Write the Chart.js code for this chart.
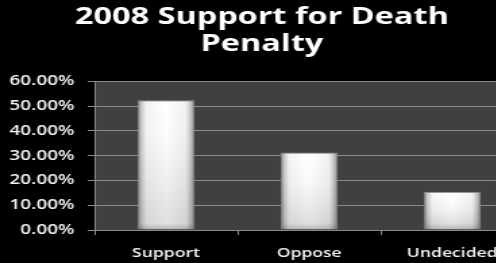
<!DOCTYPE html>
<html>
<head>
<meta charset="utf-8">
<script src="https://cdn.jsdelivr.net/npm/chart.js@4/dist/chart.umd.min.js"></script>
<style>
  html, body { margin: 0; padding: 0; background: #000; overflow: hidden; width: 496px; height: 263px; }
  #wrap { width: 393px; height: 263px; transform: scaleX(1.35); transform-origin: 0 0; }
  canvas { display: block; }
</style>
</head>
<body>
<div id="wrap"><canvas id="c" width="393" height="263" style="width:393px;height:263px"></canvas></div>
<script>
const categories = ["Support", "Oppose", "Undecided"];
const values = [0.523, 0.313, 0.154];
const titleLines = ["2008 Support for Death", "Penalty"];
const yMin = 0, yMax = 0.6, yStep = 0.1;

const FONT = "'Open Sans', 'DejaVu Sans', sans-serif";
const BAR_FRACTION = 0.4;

function barGradient(ctx) {
  const chart = ctx.chart;
  const xs = chart.scales && chart.scales.x;
  if (!xs || !chart.chartArea) return '#f4f4f4';
  const cx = xs.getPixelForValue(ctx.dataIndex);
  const w = (xs.width / categories.length) * BAR_FRACTION;
  const g = chart.ctx.createLinearGradient(cx - w / 2, 0, cx + w / 2, 0);
  g.addColorStop(0, '#7a7a7a');
  g.addColorStop(0.06, '#c4c4c4');
  g.addColorStop(0.15, '#f3f3f3');
  g.addColorStop(0.5, '#ffffff');
  g.addColorStop(0.85, '#f0f0f0');
  g.addColorStop(0.94, '#bebebe');
  g.addColorStop(1, '#7a7a7a');
  return g;
}

const plotBg = {
  id: 'plotBg',
  beforeDraw(chart) {
    const { ctx, chartArea: a } = chart;
    ctx.save();
    ctx.fillStyle = '#000';
    ctx.fillRect(0, 0, chart.width, chart.height);
    ctx.fillStyle = '#404040';
    ctx.fillRect(a.left, a.top, a.right - a.left, a.bottom - a.top);
    ctx.restore();
  },
  afterDatasetsDraw(chart) {
    const { ctx } = chart;
    const meta = chart.getDatasetMeta(0);
    ctx.save();
    meta.data.forEach(el => {
      const p = el.getProps(['x', 'y', 'base', 'width'], true);
      const h = p.base - p.y;
      const g = ctx.createLinearGradient(0, p.y, 0, p.base);
      g.addColorStop(0, 'rgba(255,255,255,0.0)');
      g.addColorStop(0.5, 'rgba(0,0,0,0.04)');
      g.addColorStop(Math.max(0.5, 1 - 6 / h), 'rgba(0,0,0,0.12)');
      g.addColorStop(1, 'rgba(0,0,0,0.28)');
      ctx.fillStyle = g;
      ctx.fillRect(p.x - p.width / 2 + 1, p.y + 1, p.width - 2, h - 1);
    });
    ctx.restore();
  }
};

new Chart(document.getElementById('c'), {
  type: 'bar',
  data: {
    labels: categories,
    datasets: [{
      data: values,
      backgroundColor: barGradient,
      borderColor: '#8c8c8c',
      borderWidth: 1,
      barPercentage: BAR_FRACTION,
      categoryPercentage: 1.0
    }]
  },
  options: {
    responsive: false,
    animation: false,
    devicePixelRatio: 1,
    layout: { padding: { left: 0, right: 5, top: 0, bottom: 2 } },
    plugins: {
      legend: { display: false },
      tooltip: { enabled: false },
      title: {
        display: true,
        text: titleLines,
        color: '#ffffff',
        font: { family: FONT, size: 24, weight: 'bold', lineHeight: 1.15 },
        padding: { top: 3, bottom: 23 }
      }
    },
    scales: {
      x: {
        afterFit(scale) { scale.height = 31; },
        grid: { display: true, drawOnChartArea: false, drawTicks: true, tickLength: 5, color: '#8a8a8a', offset: true },
        border: { display: true, color: '#8a8a8a' },
        ticks: { color: '#f4f4f4', padding: 10, font: { family: FONT, size: 13, weight: '600' }, maxRotation: 0, autoSkip: false }
      },
      y: {
        min: yMin, max: yMax,
        afterFit(scale) { scale.width = 70; },
        grid: { color: '#8a8a8a', tickLength: 5, drawTicks: true },
        border: { display: true, color: '#8a8a8a' },
        ticks: {
          stepSize: yStep,
          color: '#f4f4f4',
          padding: 10,
          font: { family: FONT, size: 14, weight: '600' },
          callback: v => (v * 100).toFixed(2) + '%'
        }
      }
    }
  },
  plugins: [plotBg]
});
</script>
</body>
</html>
